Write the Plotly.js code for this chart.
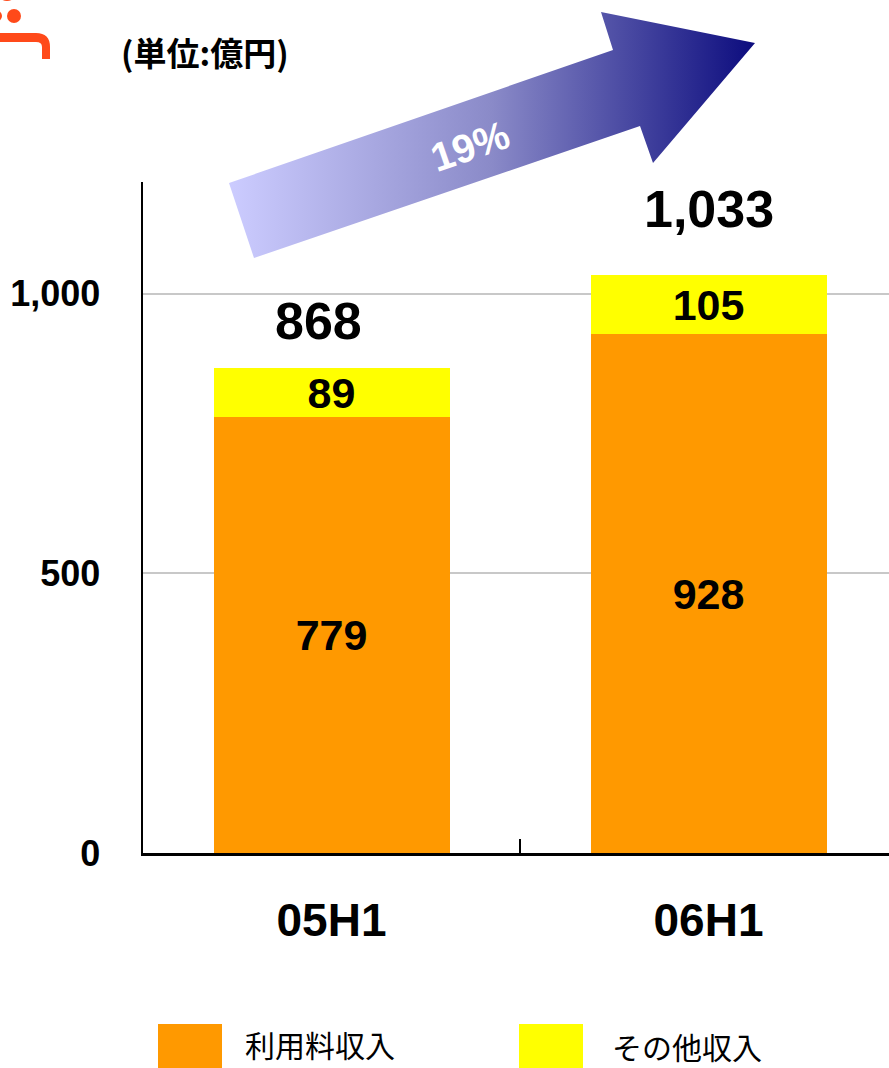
<!DOCTYPE html>
<html>
<head>
<meta charset="utf-8">
<script src="https://cdn.plot.ly/plotly-3.0.1.min.js"></script>
<style>html,body{margin:0;padding:0;background:#fff;}#chart{width:889px;height:1068px;}</style>
</head>
<body>
<div id="chart"></div>
<script>
// ---- data ----
const categories = ['05H1', '06H1'];
const usageFees = [779, 928];      // 利用料収入
const otherIncome = [89, 105];     // その他収入
const seriesNames = ['利用料収入', 'その他収入'];
const seriesColors = ['#FF9900', '#FFFF00'];
const unitLabel = '(単位:億円)';
const growthLabel = '19%';
const yTicks = [0, 500, 1000];

const totals = categories.map((c, i) => usageFees[i] + otherIncome[i]);

// ---- page geometry (pixels) ----
const W = 889, H = 1068;
const plotL = 143, plotR = 889, plotT = 182, plotB = 853;
const catPx = 377;

const numFont = 'Liberation Sans, Arial, sans-serif';
const cjkFont = 'Noto Sans CJK JP, sans-serif';

const barCommon = {
  type: 'bar', x: categories, xaxis: 'x', yaxis: 'y',
  textposition: 'inside', insidetextanchor: 'middle', constraintext: 'none',
  texttemplate: '%{y}', textangle: 0,
  textfont: {family: numFont, size: 43, color: '#000', weight: 'bold'},
  marker: {line: {width: 0}}, hoverinfo: 'skip', showlegend: false
};

const traces = [
  Object.assign({}, barCommon, {name: seriesNames[0], y: usageFees, marker: {color: seriesColors[0], line: {width: 0}}}),
  Object.assign({}, barCommon, {name: seriesNames[1], y: otherIncome, marker: {color: seriesColors[1], line: {width: 0}}})
];

// decorative growth arrow (overlay pixel space)
const arrowX = [229, 613, 601, 755, 653, 640, 254, 229];
const arrowY = [183, 50, 12, 43, 163, 126, 258, 183];
traces.push({
  type: 'scatter', mode: 'lines', x: arrowX, y: arrowY, xaxis: 'x2', yaxis: 'y2',
  fill: 'toself', line: {width: 0, color: 'rgba(0,0,0,0)'},
  fillgradient: {type: 'horizontal', colorscale: [[0, '#CCCCFF'], [0.5, '#8A8AC8'], [1, '#0C0C7E']]},
  hoverinfo: 'skip', showlegend: false
});

const annotations = [];
// totals above bars
const totalShiftY = [16, 35];
const totalShiftX = [-13, 0];
categories.forEach((c, i) => {
  annotations.push({
    xref: 'x', yref: 'y', x: c, y: totals[i], yanchor: 'bottom', xanchor: 'center',
    yshift: totalShiftY[i], xshift: totalShiftX[i], showarrow: false,
    text: totals[i].toLocaleString('en-US'),
    font: {family: numFont, size: 52, color: '#000', weight: 'bold'}
  });
});
// growth label
annotations.push({
  xref: 'x2', yref: 'y2', x: 470, y: 146, showarrow: false, textangle: -19,
  text: growthLabel, font: {family: numFont, size: 40, color: '#fff', weight: 'bold'}
});
// unit label
annotations.push({
  xref: 'x2', yref: 'y2', x: 205, y: 52, showarrow: false,
  text: unitLabel, font: {family: cjkFont, size: 33, color: '#000', weight: 'bold'}
});

const shapes = [];
// legend
const legendBoxX = [158, 519];
const legendTextX = [243, 610];
seriesNames.forEach((n, i) => {
  shapes.push({type: 'rect', xref: 'x2', yref: 'y2', x0: legendBoxX[i], x1: legendBoxX[i] + 64,
    y0: 1024, y1: 1072, fillcolor: seriesColors[i], line: {width: 0}, layer: 'above'});
  annotations.push({xref: 'x2', yref: 'y2', x: legendTextX[i], y: 1044 + i * 2, xanchor: 'left',
    yanchor: 'middle', showarrow: false, text: n, font: {family: cjkFont, size: 30, color: '#000'}});
});
// partial logo at top-left
const logoColor = '#FF4A1A';
shapes.push({type: 'circle', xref: 'x2', yref: 'y2', x0: 7, x1: 21, y0: 9, y1: 23, fillcolor: logoColor, line: {width: 0}});
shapes.push({type: 'circle', xref: 'x2', yref: 'y2', x0: -11, x1: 2, y0: 10, y1: 22, fillcolor: logoColor, line: {width: 0}});
shapes.push({type: 'circle', xref: 'x2', yref: 'y2', x0: -3, x1: 17, y0: -19, y1: 1, fillcolor: logoColor, line: {width: 0}});
shapes.push({type: 'path', xref: 'x2', yref: 'y2',
  path: 'M 0 33 L 36 33 Q 50 33 50 47 L 50 59 L 42 59 L 42 47 Q 42 42 36 42 L 0 42 Z',
  fillcolor: logoColor, line: {width: 0}});

const layout = {
  width: W, height: H,
  margin: {l: 0, r: 0, t: 0, b: 0, pad: 0},
  paper_bgcolor: '#fff', plot_bgcolor: 'rgba(0,0,0,0)',
  barmode: 'stack', bargap: 0.374,
  showlegend: false,
  xaxis: {
    domain: [plotL / W, plotR / W],
    range: [-0.5, -0.5 + (plotR - plotL) / catPx],
    type: 'category', tickson: 'boundaries', ticks: 'inside', ticklen: 14, tickwidth: 2, tickcolor: '#000',
    showline: true, linecolor: '#000', linewidth: 2.5, showgrid: false, zeroline: false,
    tickfont: {family: numFont, size: 46, color: '#000', weight: 'bold'},
    ticklabelstandoff: 25, fixedrange: true
  },
  yaxis: {
    domain: [(H - plotB) / H, (H - plotT) / H],
    range: [0, 1200], tickvals: yTicks, tickformat: ',d', ticks: '',
    showline: true, linecolor: '#000', linewidth: 2.5,
    showgrid: true, gridcolor: '#C8C8C8', gridwidth: 2, zeroline: false,
    tickfont: {family: numFont, size: 36, color: '#000', weight: 'bold'},
    ticklabelstandoff: 33, fixedrange: true
  },
  xaxis2: {domain: [0, 1], range: [0, W], anchor: 'y2', visible: false, fixedrange: true},
  yaxis2: {domain: [0, 1], range: [H, 0], anchor: 'x2', visible: false, fixedrange: true},
  annotations: annotations,
  shapes: shapes
};

Plotly.newPlot('chart', traces, layout, {staticPlot: true, displayModeBar: false});
</script>
</body>
</html>
